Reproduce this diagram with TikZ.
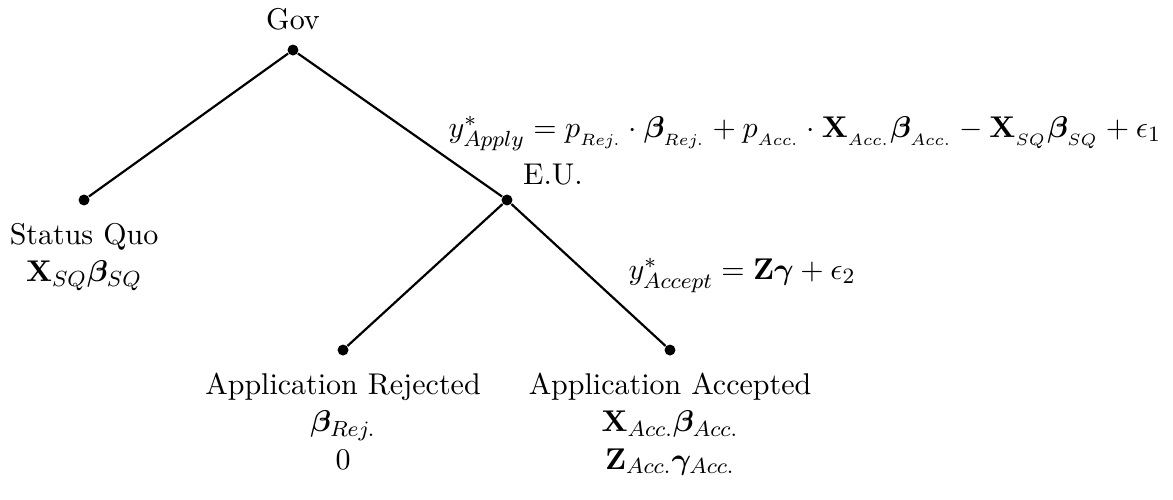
\documentclass[11pt,tikz,border=0pt]{standalone}
\usepackage{amsmath,amssymb,bm}
\usetikzlibrary{positioning}

\begin{document}
\begin{tikzpicture}[dot/.style={circle, fill=black, inner sep=0pt, minimum size=4pt},
    branch/.style={line width=0.8pt}]
  \useasboundingbox (0,0) rectangle (15.05,-6.415);
  % decision nodes
  \node[dot] (gov) at (3.759,-0.642) {};
  \node[dot] (sq) at (1.078,-2.566) {};
  \node[dot] (eu) at (6.505,-2.566) {};
  \node[dot] (rej) at (4.401,-4.491) {};
  \node[dot] (acc) at (8.596,-4.491) {};
  \draw[branch] (gov) -- (sq);
  \draw[branch] (gov) -- (eu);
  \draw[branch] (eu) -- (rej);
  \draw[branch] (eu) -- (acc);
  % labels
  \node[above=1.1pt of gov] (govlabel) {Gov};
  \node[above right=0pt and 0.5pt of eu] (eulabel) {E.U.};
  \node[below=2.4pt of sq, align=center] (sqlabel) {Status Quo\\ $\mathbf{X}_{SQ}\bm{\beta}_{SQ}$};
  \node[below=2.4pt of rej, align=center] (rejlabel) {Application Rejected\\ $\bm{\beta}_{Rej.}$\\ $0$};
  \node[below=2.4pt of acc, align=center] (acclabel) {Application Accepted\\ $\mathbf{X}_{Acc.}\bm{\beta}_{Acc.}$\\ $\mathbf{Z}_{Acc.}\bm{\gamma}_{Acc.}$};
  \node[anchor=base west, inner sep=0pt] (applyeq) at (5.748,-1.764) {$y^*_{Apply} = p_{_{Rej.}}\cdot\bm{\beta}_{_{Rej.}} + p_{_{Acc.}}\cdot\mathbf{X}_{_{Acc.}}\bm{\beta}_{_{Acc.}} - \mathbf{X}_{_{SQ}}\bm{\beta}_{_{SQ}} + \epsilon_1$};
  \node[anchor=base west, inner sep=0pt] (accepteq) at (8.057,-3.586) {$y^*_{Accept} = \mathbf{Z}\bm{\gamma} + \epsilon_2$};
\end{tikzpicture}
\end{document}
